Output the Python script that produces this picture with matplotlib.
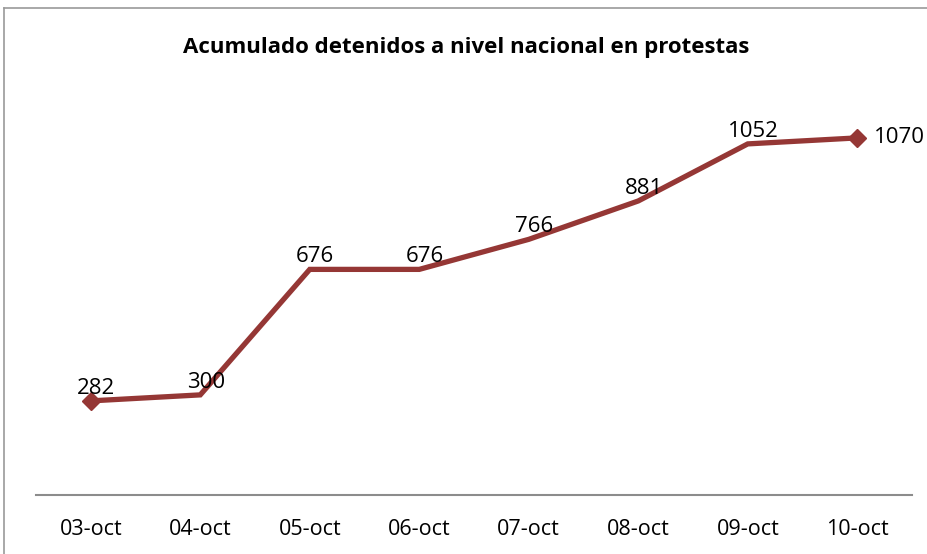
import matplotlib
matplotlib.use("Agg")
import matplotlib.pyplot as plt
from matplotlib.lines import Line2D

categories = ["03-oct", "04-oct", "05-oct", "06-oct", "07-oct", "08-oct", "09-oct", "10-oct"]
values = [282, 300, 676, 676, 766, 881, 1052, 1070]
title = "Acumulado detenidos a nivel nacional en protestas"

plt.rcParams['font.family'] = ['Open Sans', 'DejaVu Sans']

W, H = 928, 554
fig = plt.figure(figsize=(W / 100, H / 100), dpi=100)
ax = fig.add_axes([36 / W, (H - 495) / H, (912 - 36) / W, (495 - 94.5) / H])

x = list(range(len(categories)))
color = "#953735"
ax.plot(x, values, color=color, lw=3.8, solid_joinstyle="miter",
        marker="D", markersize=9, markevery=[0, len(values) - 1], zorder=3)

ax.set_xlim(-0.5, len(categories) - 0.5)
ax.set_ylim(0, 1200)
ax.set_xticks(x)
ax.set_xticklabels(categories, fontsize=15.5)
ax.tick_params(axis="x", length=0, pad=17)
ax.set_yticks([])
for s in ["top", "right", "left"]:
    ax.spines[s].set_visible(False)
ax.spines["bottom"].set_color("#8c8c8c")
ax.spines["bottom"].set_linewidth(1.5)

for i, v in enumerate(values):
    if i == len(values) - 1:
        ax.annotate(str(v), (i, v), xytext=(12, 0), textcoords="offset points",
                    ha="left", va="center", fontsize=16)
    else:
        ax.annotate(str(v), (i, v), xytext=(4, 1.5), textcoords="offset points",
                    ha="center", va="bottom", fontsize=16)

fig.text(466 / W, 1 - 48 / H, title, ha="center", va="center",
         fontsize=16, fontweight="bold")

fig.add_artist(Line2D([4 / W, 4 / W], [0, 1 - 8 / H], transform=fig.transFigure,
                      color="#9a9a9a", lw=1.2))
fig.add_artist(Line2D([4 / W, 1], [1 - 8 / H, 1 - 8 / H], transform=fig.transFigure,
                      color="#9a9a9a", lw=1.2))

fig.savefig("out.png", dpi=100)
